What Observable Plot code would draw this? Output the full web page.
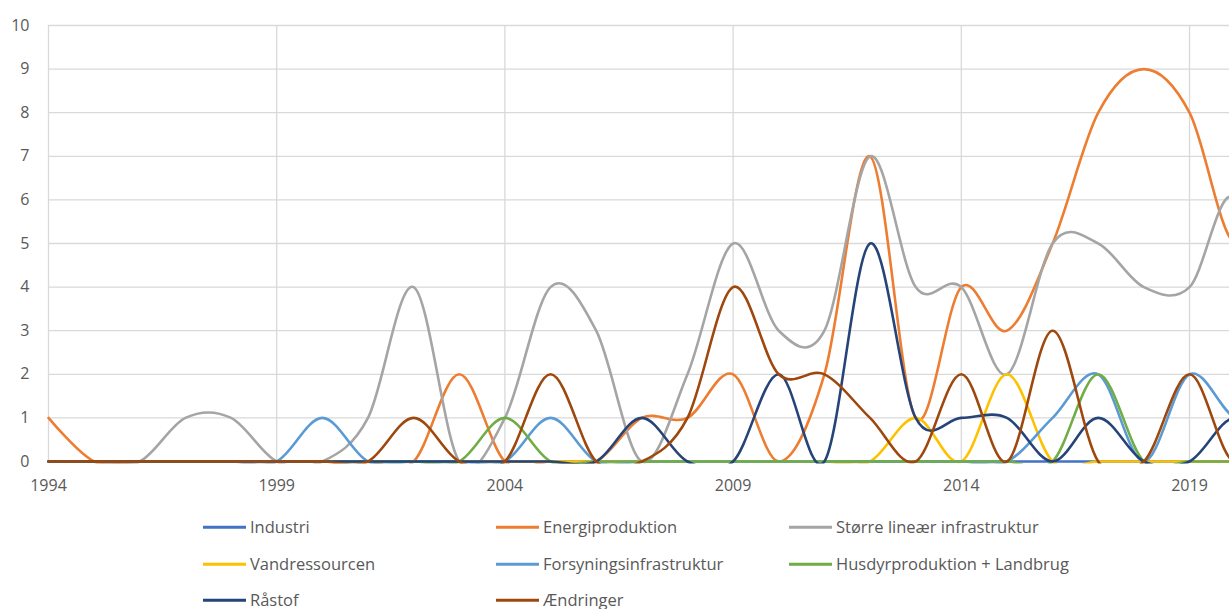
<!DOCTYPE html>
<html>
<head>
<meta charset="utf-8">
<script src="https://cdn.jsdelivr.net/npm/d3@7"></script>
<script src="https://cdn.jsdelivr.net/npm/@observablehq/plot@0.6"></script>
<style>
  html, body { margin: 0; padding: 0; background: #fff; overflow: hidden; }
  #wrap { position: relative; width: 1229px; height: 609px; }
  #legend { position: absolute; left: 0; top: 0; width: 1229px; height: 609px; pointer-events: none; }
  .item { position: absolute; display: flex; align-items: center; font-family: "Open Sans", sans-serif; font-size: 16.5px; line-height: 16.5px; color: #595959; white-space: nowrap; transform: translateY(-50%); }
  .swatch { width: 43px; height: 3px; margin-right: 4px; }
</style>
</head>
<body>
<div id="wrap"><div id="chart"></div><div id="legend"></div></div>
<script>
// yearly counts; the chart is cropped on the right, 2021 only shapes the smoothed curve at the edge
const years = [1994,1995,1996,1997,1998,1999,2000,2001,2002,2003,2004,2005,2006,2007,2008,2009,2010,2011,2012,2013,2014,2015,2016,2017,2018,2019,2020,2021];
const seriesNames = ["Industri","Energiproduktion","Større lineær infrastruktur","Vandressourcen","Forsyningsinfrastruktur","Husdyrproduktion + Landbrug","Råstof","Ændringer"];
const seriesColors = ["#4472C4","#ED7D31","#A5A5A5","#FFC000","#5B9BD5","#70AD47","#264478","#9E480E"];

const industri         = [0,0,0,0,0,0,0,0,0,0,0,0,0,0,0,0,0,0,0,0,0,0,0,0,0,0,0,0];
const energiproduktion = [1,0,0,0,0,0,0,0,0,2,0,0,0,1,1,2,0,2,7,1,4,3,5,8,9,8,5,7];
const stoerreLinear    = [0,0,0,1,1,0,0,1,4,0,1,4,3,0,2,5,3,3,7,4,4,2,5,5,4,4,6,1];
const vandressourcen   = [0,0,0,0,0,0,0,0,0,0,0,0,0,0,0,0,0,0,0,1,0,2,0,0,0,0,0,0];
const forsyning        = [0,0,0,0,0,0,1,0,0,0,0,1,0,0,0,0,0,0,0,0,0,0,1,2,0,2,1,1];
const husdyr           = [0,0,0,0,0,0,0,0,0,0,1,0,0,0,0,0,0,0,0,0,0,0,0,2,0,0,0,0];
const raastof          = [0,0,0,0,0,0,0,0,0,0,0,0,0,1,0,0,2,0,5,1,1,1,0,1,0,0,1,0];
const aendringer       = [0,0,0,0,0,0,0,0,1,0,0,2,0,0,1,4,2,2,1,0,2,0,3,0,0,2,0,2];

const xTicks = [1994,1999,2004,2009,2014,2019];
const yTicks = [0,1,2,3,4,5,6,7,8,9,10];

const seriesValues = [industri, energiproduktion, stoerreLinear, vandressourcen, forsyning, husdyr, raastof, aendringer];
const data = [];
seriesNames.forEach((name, i) => {
  years.forEach((yr, j) => data.push({series: name, year: yr, value: seriesValues[i][j]}));
});

const chart = Plot.plot({
  width: 1229,
  height: 505,
  marginLeft: 48,
  marginRight: 0,
  marginTop: 25,
  marginBottom: 44,
  style: {fontFamily: "Open Sans, sans-serif", fontSize: "16px", color: "#595959", background: "white"},
  x: {domain: [1994, 2019.876], label: null},
  y: {domain: [0, 10], label: null},
  color: {domain: seriesNames, range: seriesColors},
  marks: [
    Plot.gridY(yTicks, {stroke: "#d9d9d9", strokeOpacity: 1, strokeWidth: 1.3}),
    Plot.gridX(xTicks, {stroke: "#d9d9d9", strokeOpacity: 1, strokeWidth: 1.3}),
    Plot.axisX(xTicks, {tickSize: 0, tickPadding: 18, tickFormat: d => String(d), fill: "#595959", fontSize: 16}),
    Plot.axisY(yTicks, {tickSize: 0, tickPadding: 19, fill: "#595959", fontSize: 16}),
    Plot.line(data, {x: "year", y: "value", z: "series", stroke: "series", curve: "cardinal", tension: 0, strokeWidth: 2.6, strokeLinejoin: "round", strokeLinecap: "round"})
  ]
});
document.getElementById("chart").appendChild(chart);

// clip lines to the plot area, leaving the stroke on the zero line visible
const svg = d3.select(chart);
const xs = chart.scale("x"), ys = chart.scale("y");
const x0 = xs.apply(1994), y0 = ys.apply(0), y10 = ys.apply(10);
svg.insert("defs", ":first-child").append("clipPath").attr("id", "plotclip")
  .append("rect").attr("x", x0 - 2).attr("y", y10 - 2).attr("width", 1229).attr("height", y0 - y10 + 4);
svg.selectAll('g[aria-label="line"]').attr("clip-path", "url(#plotclip)");

// legend
const legend = document.getElementById("legend");
const colX = [203, 496, 789];
const rowY = [527, 564, 600];
seriesNames.forEach((name, i) => {
  const it = document.createElement("div");
  it.className = "item";
  it.style.left = colX[i % 3] + "px";
  it.style.top = rowY[Math.floor(i / 3)] + "px";
  const sw = document.createElement("div");
  sw.className = "swatch";
  sw.style.background = seriesColors[i];
  const tx = document.createElement("span");
  tx.textContent = name;
  it.appendChild(sw); it.appendChild(tx);
  legend.appendChild(it);
});
</script>
</body>
</html>
